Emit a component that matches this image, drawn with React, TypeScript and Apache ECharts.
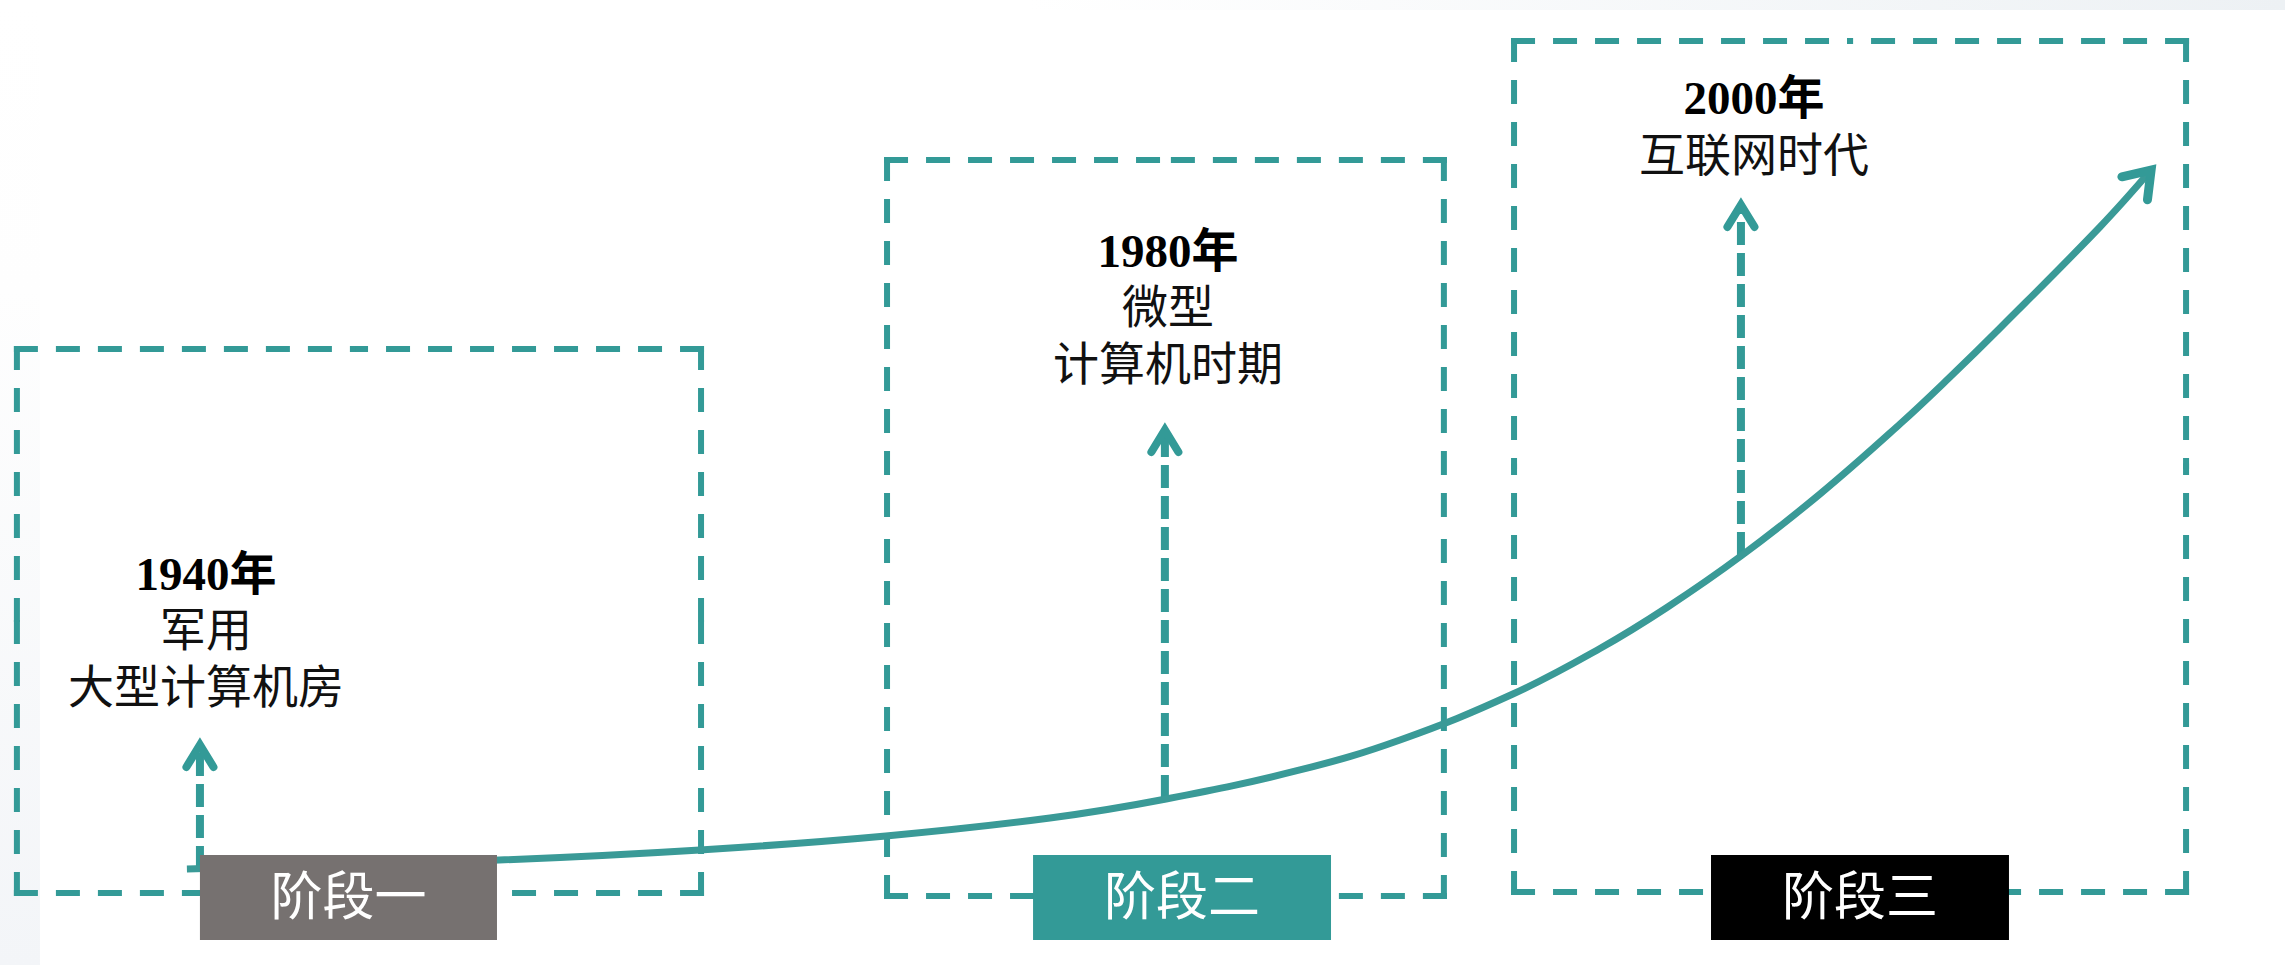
import React, { useEffect, useRef } from "react";
import * as echarts from "echarts";

// ---- data (abstract timeline units: x = progress 0..100, y = development level 0..100) ----
const stageNames = ["阶段一", "阶段二", "阶段三"];
const stageYears = ["1940年", "1980年", "2000年"];
const stageDesc = [["军用", "大型计算机房"], ["微型", "计算机时期"], ["互联网时代"]];

// stage frames
const stageStart = [0.74, 38.82, 66.26];
const stageEnd = [30.68, 63.19, 95.67];
const stageCeiling = [63.83, 83.42, 95.75];
const stageFloor = [7.46, 7.15, 7.56];

// stage badges
const badgeStart = [8.75, 45.21, 74.88];
const badgeEnd = [21.75, 58.25, 87.92];
const badgeTop = [11.4, 11.4, 11.4];
const badgeBottom = [2.59, 2.59, 2.59];

// milestone arrows
const milestoneX = [8.75, 50.98, 76.19];
const milestoneBase = [9.95, 17.3, 42.5];
const milestoneTip = [22.8, 55.44, 78.76];

// milestone captions (first line)
const captionX = [9.02, 51.12, 76.76];
const captionY = [40.52, 73.99, 89.84];

// growth curve
const curveX = [8.18, 21.84, 30.63, 38.77, 45.95, 51.03, 56.89, 61.27, 66.21, 70.02, 72.95, 76.19, 79.65, 83.15, 85.34, 87.53, 91.9, 94.14];
const curveY = [9.95, 10.88, 11.92, 13.37, 15.23, 17.2, 20.21, 23.32, 28.08, 32.8, 37.05, 42.38, 48.81, 56.06, 60.93, 66.01, 76.48, 82.38];

const TEAL = "#339a97";
const badgeColors = ["#767170", "#339a97", "#000000"];
const FONT = "'Liberation Serif', 'Noto Sans CJK SC', serif";

export default function App() {
  const ref = useRef<HTMLDivElement>(null);

  useEffect(() => {
    if (!ref.current) return;
    const chart = echarts.init(ref.current, undefined, { renderer: "svg" });

    const stageIdx = stageNames.map((_, i) => i);
    const n = curveX.length;

    const option: any = {
      animation: false,
      backgroundColor: "#ffffff",
      grid: { left: 0, right: 0, top: 0, bottom: 0, containLabel: false },
      xAxis: { type: "value", min: 0, max: 100, show: false },
      yAxis: { type: "value", min: 0, max: 100, show: false },
      graphic: [
        {
          type: "rect",
          left: 0,
          top: 0,
          z: 0,
          shape: { width: 40, height: 965 },
          style: {
            fill: new echarts.graphic.LinearGradient(0, 0, 0, 1, [
              { offset: 0, color: "#ffffff" },
              { offset: 0.3, color: "#fefefe" },
              { offset: 1, color: "#f3f5f8" },
            ]),
          },
        },
        {
          type: "rect",
          left: 0,
          top: 0,
          z: 0,
          shape: { width: 2285, height: 10 },
          style: {
            fill: new echarts.graphic.LinearGradient(0, 0, 1, 0, [
              { offset: 0, color: "#ffffff" },
              { offset: 0.45, color: "#ffffff" },
              { offset: 1, color: "#edf1f4" },
            ]),
          },
        },
      ],
      series: [
        {
          type: "custom",
          name: "frames",
          coordinateSystem: "cartesian2d",
          clip: false,
          z: 1,
          data: stageIdx.map((i) => [stageStart[i], stageCeiling[i], stageEnd[i], stageFloor[i]]),
          encode: { x: [0, 2], y: [1, 3] },
          renderItem: (params: any, api: any) => {
            const tl = api.coord([api.value(0), api.value(1)]);
            const br = api.coord([api.value(2), api.value(3)]);
            const x0 = tl[0], y0 = tl[1], x1 = br[0], y1 = br[1];
            const mx = (x0 + x1) / 2, my = (y0 + y1) / 2;
            const segs = [
              [x0, y0, mx, y0], [x1, y0, mx, y0],
              [x1, y0, x1, my], [x1, y1, x1, my],
              [x1, y1, mx, y1], [x0, y1, mx, y1],
              [x0, y1, x0, my], [x0, y0, x0, my],
            ];
            return {
              type: "group",
              children: segs.map((s) => ({
                type: "line",
                shape: { x1: s[0], y1: s[1], x2: s[2], y2: s[3] },
                style: { stroke: TEAL, lineWidth: 6, lineDash: [18, 24], lineCap: "square", fill: null },
              })),
            };
          },
        },
        {
          type: "custom",
          name: "milestones",
          coordinateSystem: "cartesian2d",
          clip: false,
          z: 2,
          data: stageIdx.map((i) => [milestoneX[i], milestoneBase[i], milestoneTip[i]]),
          encode: { x: 0, y: [1, 2] },
          renderItem: (params: any, api: any) => {
            const i = params.dataIndex;
            const base = api.coord([api.value(0), api.value(1)]);
            const tip = api.coord([api.value(0), api.value(2)]);
            const cap = api.coord([captionX[i], captionY[i]]);
            const children: any[] = [
              {
                type: "line",
                shape: { x1: base[0], y1: base[1], x2: tip[0], y2: tip[1] + 6 },
                style: { stroke: TEAL, lineWidth: 8, lineDash: [23, 8], fill: null },
              },
              {
                type: "polyline",
                shape: { points: [[tip[0] - 13.5, tip[1] + 22], [tip[0], tip[1]], [tip[0] + 13.5, tip[1] + 22]] },
                style: { stroke: TEAL, lineWidth: 8, lineJoin: "miter", lineCap: "round", fill: null },
              },
              {
                type: "text",
                style: {
                  text: stageYears[i],
                  x: cap[0],
                  y: cap[1],
                  align: "center",
                  verticalAlign: "middle",
                  fill: "#000000",
                  fontSize: 47,
                  fontWeight: "bold",
                  fontFamily: FONT,
                },
              },
            ];
            stageDesc[i].forEach((line, k) => {
              children.push({
                type: "text",
                style: {
                  text: line,
                  x: cap[0],
                  y: cap[1] + (k + 1) * 57,
                  align: "center",
                  verticalAlign: "middle",
                  fill: "#111111",
                  fontSize: 46,
                  fontFamily: FONT,
                },
              });
            });
            return { type: "group", children };
          },
        },
        {
          type: "line",
          name: "growth",
          z: 3,
          data: curveX.map((x, i) => [x, curveY[i]]),
          showSymbol: false,
          symbol: "none",
          smooth: 0.4,
          clip: false,
          lineStyle: { color: "#3a9a97", width: 7, cap: "butt" },
        },
        {
          type: "custom",
          name: "badges",
          coordinateSystem: "cartesian2d",
          clip: false,
          z: 4,
          data: stageIdx.map((i) => [badgeStart[i], badgeTop[i], badgeEnd[i], badgeBottom[i]]),
          encode: { x: [0, 2], y: [1, 3] },
          renderItem: (params: any, api: any) => {
            const i = params.dataIndex;
            const tl = api.coord([api.value(0), api.value(1)]);
            const br = api.coord([api.value(2), api.value(3)]);
            return {
              type: "group",
              children: [
                {
                  type: "rect",
                  shape: { x: tl[0], y: tl[1], width: br[0] - tl[0], height: br[1] - tl[1] },
                  style: { fill: badgeColors[i] },
                },
                {
                  type: "text",
                  style: {
                    text: stageNames[i],
                    x: (tl[0] + br[0]) / 2,
                    y: (tl[1] + br[1]) / 2,
                    align: "center",
                    verticalAlign: "middle",
                    fill: "#ffffff",
                    fontSize: 52,
                    fontFamily: FONT,
                  },
                },
              ],
            };
          },
        },
        {
          type: "custom",
          name: "growthHead",
          coordinateSystem: "cartesian2d",
          clip: false,
          z: 5,
          data: [[curveX[n - 1], curveY[n - 1], curveX[n - 2], curveY[n - 2]]],
          encode: { x: [0, 2], y: [1, 3] },
          renderItem: (params: any, api: any) => {
            const p = api.coord([api.value(0), api.value(1)]);
            const q = api.coord([api.value(2), api.value(3)]);
            let dx = q[0] - p[0], dy = q[1] - p[1];
            const len = Math.hypot(dx, dy) || 1;
            dx /= len; dy /= len;
            const a = (35 * Math.PI) / 180;
            const L = 30;
            const rot = (ang: number) => [
              p[0] + L * (dx * Math.cos(ang) - dy * Math.sin(ang)),
              p[1] + L * (dx * Math.sin(ang) + dy * Math.cos(ang)),
            ];
            return {
              type: "polyline",
              shape: { points: [rot(a), [p[0], p[1]], rot(-a)] },
              style: { stroke: TEAL, lineWidth: 9, lineJoin: "miter", lineCap: "round", fill: null },
            };
          },
        },
      ],
    };

    chart.setOption(option);
    return () => chart.dispose();
  }, []);

  return (
    <div
      ref={ref}
      style={{ position: "fixed", left: 0, top: 0, width: "2285px", height: "965px" }}
    />
  );
}
